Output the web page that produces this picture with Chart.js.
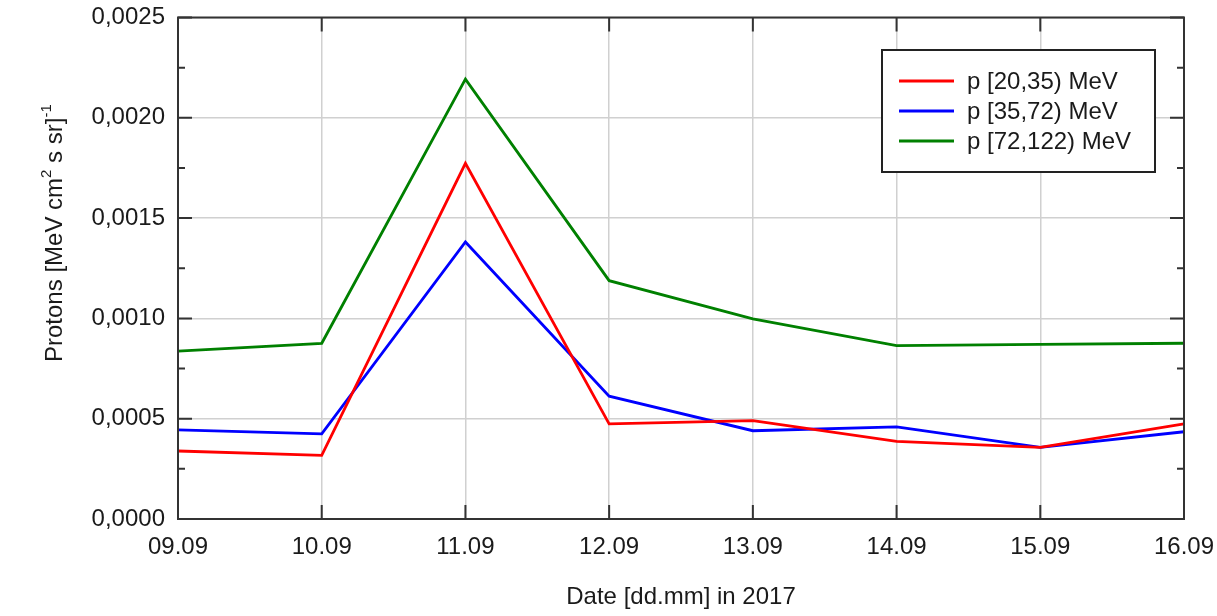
<!DOCTYPE html>
<html>
<head>
<meta charset="utf-8">
<script src="https://cdn.jsdelivr.net/npm/chart.js@4"></script>
<style>
  body{margin:0;background:#fff;}
  #wrap{width:1217px;height:616px;}
</style>
</head>
<body>
<div id="wrap"><canvas id="chart" width="1217" height="616"></canvas></div>
<script>
// --- data ---
const dates = ['09.09','10.09','11.09','12.09','13.09','14.09','15.09','16.09'];
const p20_35 = [0.000339, 0.000317, 0.001773, 0.000474, 0.000490, 0.000387, 0.000357, 0.000474];
const p35_72 = [0.000444, 0.000424, 0.001381, 0.000612, 0.000440, 0.000459, 0.000357, 0.000435];
const p72_122 = [0.000837, 0.000876, 0.002193, 0.001188, 0.000998, 0.000864, 0.000871, 0.000876];
const seriesLabels = ['p [20,35) MeV','p [35,72) MeV','p [72,122) MeV'];
const seriesColors = ['#ff0000','#0000ff','#008000'];

const FONT = '"Liberation Sans", Arial, sans-serif';
const textColor = '#1a1a1a';

// frame, inward ticks, legend box and y title with superscripts
const decor = {
  id:'decor',
  afterDraw(chart){
    const ctx = chart.ctx;
    const a = chart.chartArea;
    const xs = chart.scales.x, ys = chart.scales.y;
    ctx.save();
    ctx.strokeStyle = '#333';
    ctx.lineWidth = 2;
    // inward ticks
    ctx.beginPath();
    for(let v=0; v<=0.0025+1e-9; v+=0.00025){
      const y = ys.getPixelForValue(v);
      const major = Math.round(v/0.00025)%2===0;
      const len = major?14:7;
      ctx.moveTo(a.left,y); ctx.lineTo(a.left+len,y);
      ctx.moveTo(a.right,y); ctx.lineTo(a.right-len,y);
    }
    dates.forEach((d,i)=>{
      const x = xs.getPixelForValue(i);
      ctx.moveTo(x,a.bottom); ctx.lineTo(x,a.bottom-14);
      ctx.moveTo(x,a.top); ctx.lineTo(x,a.top+14);
    });
    ctx.stroke();
    ctx.strokeRect(a.left,a.top,a.right-a.left,a.bottom-a.top);

    // legend
    const lx=882, ly=50, lw=273, lh=122;
    ctx.fillStyle='#fff';
    ctx.fillRect(lx,ly,lw,lh);
    ctx.strokeStyle='#222';
    ctx.strokeRect(lx,ly,lw,lh);
    ctx.font = '24px '+FONT;
    ctx.textBaseline='middle';
    chart.data.datasets.forEach((ds,i)=>{
      const y = 81 + i*30;
      ctx.strokeStyle = ds.borderColor;
      ctx.lineWidth = 2.8;
      ctx.beginPath(); ctx.moveTo(899,y); ctx.lineTo(954,y); ctx.stroke();
      ctx.fillStyle = textColor;
      ctx.fillText(ds.label, 967, y+1);
    });

    // y axis title
    ctx.translate(62, 362);
    ctx.rotate(-Math.PI/2);
    ctx.textBaseline='alphabetic';
    ctx.textAlign='left';
    ctx.fillStyle=textColor;
    let x = 0;
    const part = (t,size,dy)=>{
      ctx.font = size+'px '+FONT;
      ctx.fillText(t,x,dy);
      x += ctx.measureText(t).width;
    };
    part('Protons [MeV cm',24,0);
    part('2',15,-11);
    part(' s sr]',24,0);
    part('-1',15,-11);
    ctx.restore();
  }
};

new Chart(document.getElementById('chart'),{
  type:'line',
  data:{
    labels:dates,
    datasets:[
      {label:seriesLabels[0],data:p20_35,borderColor:seriesColors[0]},
      {label:seriesLabels[1],data:p35_72,borderColor:seriesColors[1]},
      {label:seriesLabels[2],data:p72_122,borderColor:seriesColors[2]}
    ].map(d=>Object.assign(d,{borderWidth:2.8,pointRadius:0,tension:0,fill:false}))
  },
  options:{
    responsive:false,
    animation:false,
    layout:{padding:{top:17.5,right:33,left:0,bottom:0}},
    plugins:{legend:{display:false},tooltip:{enabled:false}},
    scales:{
      x:{
        offset:false,
        grid:{color:'#d0d0d0',lineWidth:1.5,drawTicks:false},
        border:{display:false},
        ticks:{color:textColor,font:{family:FONT,size:24},padding:14,maxRotation:0},
        title:{display:true,text:'Date [dd.mm] in 2017',color:textColor,font:{family:FONT,size:24},padding:{top:20}},
        afterFit:s=>{s.height=97;s.paddingLeft=0;s.paddingRight=0;}
      },
      y:{
        min:0,max:0.0025,
        grid:{color:'#d0d0d0',lineWidth:1.5,drawTicks:false},
        border:{display:false},
        ticks:{stepSize:0.0005,color:textColor,font:{family:FONT,size:24},padding:13,
          callback:v=>v.toFixed(4).replace('.',',')},
        afterFit:s=>{s.width=178;s.paddingTop=0;s.paddingBottom=0;}
      }
    }
  },
  plugins:[decor]
});
</script>
</body>
</html>
